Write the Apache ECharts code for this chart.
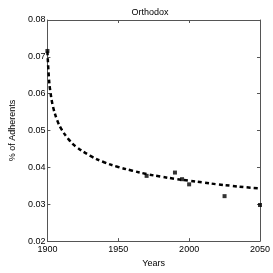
<!DOCTYPE html>
<html><head><meta charset="utf-8">
<script src="https://cdn.jsdelivr.net/npm/echarts@6/dist/echarts.min.js"></script>
<style>html,body{margin:0;padding:0;background:#fff}#c{width:273px;height:273px}</style>
</head><body><div id="c"></div>
<script>
const title = 'Orthodox';
const xLabel = 'Years';
const yLabel = '% of Adherents';
const pointYears = [1900, 1970, 1990, 1995, 2000, 2025, 2050];
const pointValues = [0.0716, 0.0377, 0.0386, 0.0368, 0.0354, 0.0322, 0.0298];
const fitYears = [1900, 1901, 1902, 1904, 1907, 1910, 1915, 1920, 1930, 1940, 1950, 1960, 1970, 1980, 1990, 2000, 2010, 2020, 2030, 2040, 2050];
const fitValues = [0.0715, 0.0646, 0.0608, 0.0564, 0.0527, 0.0503, 0.0476, 0.0457, 0.0432, 0.0414, 0.0401, 0.0391, 0.0382, 0.0375, 0.0369, 0.0364, 0.0359, 0.0354, 0.0350, 0.0346, 0.0343];
const xTicks = [1900, 1950, 2000, 2050];
const yTicks = [0.02, 0.03, 0.04, 0.05, 0.06, 0.07, 0.08];

const font = 'Liberation Sans';
const axisCol = '#555';
const chart = echarts.init(document.getElementById('c'), null, {renderer: 'canvas'});
const common = {
  axisLine: {show: true, lineStyle: {color: axisCol, width: 1}},
  axisTick: {show: true, inside: true, length: 3, lineStyle: {color: axisCol}},
  splitLine: {show: false}
};
chart.setOption({
  animation: false,
  backgroundColor: '#fff',
  title: {text: title, left: 145, top: 3, textAlign: 'center',
    textStyle: {fontFamily: font, fontSize: 9, fontWeight: 'normal', color: '#000'}},
  grid: {left: 28, right: 10, top: 20, bottom: 25},
  xAxis: [
    Object.assign({type: 'value', min: xTicks[0], max: xTicks[xTicks.length-1], interval: 50,
      name: xLabel, nameLocation: 'middle', nameGap: 15,
      nameTextStyle: {fontFamily: font, fontSize: 9, color: '#000'},
      axisLabel: {fontFamily: font, fontSize: 9, color: '#000', margin: 4, formatter: v => String(v)}}, common),
    Object.assign({type: 'value', position: 'top', min: xTicks[0], max: xTicks[xTicks.length-1], interval: 50,
      axisLabel: {show: false}}, common)
  ],
  yAxis: [
    Object.assign({type: 'value', min: yTicks[0], max: yTicks[yTicks.length-1], interval: 0.01,
      name: yLabel, nameLocation: 'middle', nameGap: 22, nameRotate: 90,
      nameTextStyle: {fontFamily: font, fontSize: 9, color: '#000'},
      axisLabel: {fontFamily: font, fontSize: 9, color: '#000', margin: 2,
        formatter: v => v.toFixed(2)}}, common),
    Object.assign({type: 'value', position: 'right', min: yTicks[0], max: yTicks[yTicks.length-1], interval: 0.01,
      axisLabel: {show: false}}, common)
  ],
  series: [
    {type: 'line', data: fitYears.map((y, i) => [y, fitValues[i]]), smooth: 0.4, symbol: 'none',
      lineStyle: {color: '#000', width: 2.5, type: [4, 3]}, z: 2},
    {type: 'scatter', data: pointYears.map((y, i) => [y, pointValues[i]]), symbol: 'rect', symbolSize: 4,
      itemStyle: {color: '#000'}, z: 3}
  ]
});
</script></body></html>
